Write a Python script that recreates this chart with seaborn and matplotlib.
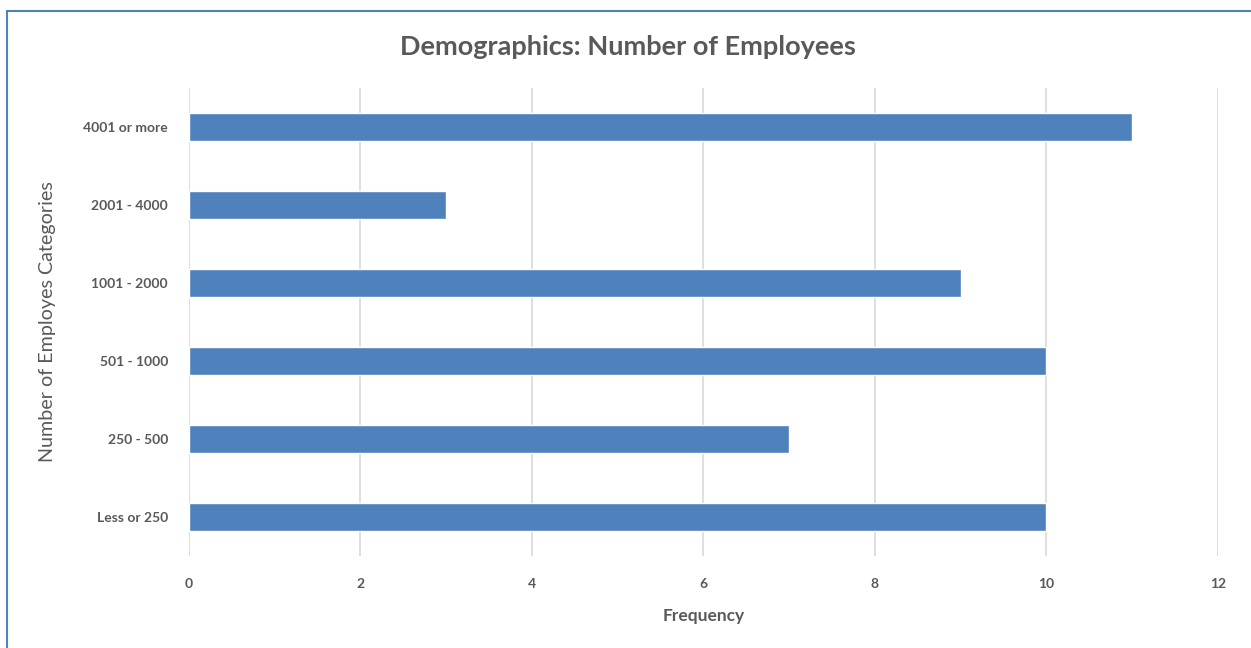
import matplotlib
matplotlib.use("Agg")
import matplotlib.pyplot as plt
import seaborn as sns
import pandas as pd

categories = ["4001 or more", "2001 - 4000", "1001 - 2000", "501 - 1000", "250 - 500", "Less or 250"]
frequency = [11, 3, 9, 10, 7, 10]

df = pd.DataFrame({"category": categories, "frequency": frequency})

sns.set_style("white")
plt.rcParams["font.family"] = ["Lato", "DejaVu Sans"]
grey = "#595959"

fig = plt.figure(figsize=(12.51, 6.48), dpi=100)
ax = fig.add_axes([0.151, 0.142, 0.8226, 0.722])

sns.barplot(data=df, x="frequency", y="category", color="#4f81bd", saturation=1,
            width=0.35, ax=ax, orient="h")

ax.set_xlim(0, 12)
ax.set_xticks(range(0, 13, 2))
ax.grid(axis="x", color="#d9d9d9", linewidth=1.2)
ax.set_axisbelow(True)
for s in ax.spines.values():
    s.set_visible(False)
ax.tick_params(axis="both", length=0, colors=grey, labelsize=10)
ax.tick_params(axis="x", pad=16)
ax.tick_params(axis="y", pad=15)
for lbl in ax.get_xticklabels() + ax.get_yticklabels():
    lbl.set_fontweight("bold")

ax.set_xlabel("Frequency", color=grey, fontsize=12.5, fontweight="bold", labelpad=13)
ax.set_ylabel("Number of Employes Categories", color=grey, fontsize=14.2, labelpad=20)
fig.text(0.502, 0.928, "Demographics: Number of Employees", ha="center", va="center",
         color=grey, fontsize=19.5, fontweight="bold")

# outer chart border
border = plt.Rectangle((0.0056, -0.01), 1.1, 0.993, transform=fig.transFigure,
                       fill=False, edgecolor="#4f81bd", linewidth=1.5)
fig.patches.append(border)

fig.savefig("out.png", dpi=100)
